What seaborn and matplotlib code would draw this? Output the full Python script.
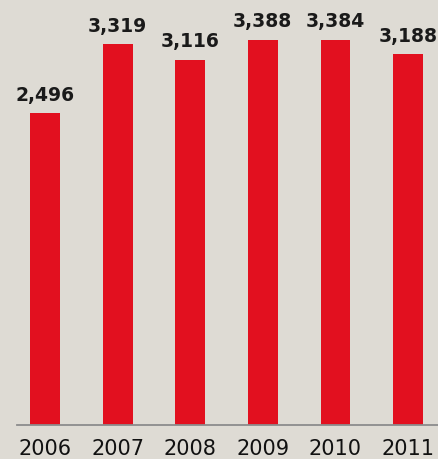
import matplotlib
matplotlib.use("Agg")
import matplotlib.pyplot as plt
import seaborn as sns
import pandas as pd

years = ["2006", "2007", "2008", "2009", "2010", "2011"]
values = [2496, 3319, 3116, 3388, 3384, 3188]
value_labels = ["2,496", "3,319", "3,116", "3,388", "3,384", "3,188"]

BG = "#dedbd4"
RED = "#e2101f"

sns.set_theme(style="white")
plt.rcParams["font.family"] = ["DejaVu Sans"]

fig = plt.figure(figsize=(4.39, 4.59), dpi=100)
fig.patch.set_facecolor(BG)
ax = fig.add_axes([17 / 439, 34 / 459, 1 - 17 / 439, 425 / 459])
ax.set_facecolor(BG)

df = pd.DataFrame({"year": years, "value": values})
sns.barplot(data=df, x="year", y="value", color=RED, saturation=1,
            width=0.41, ax=ax, edgecolor="none", linewidth=0)

ax.set_yscale("log")
ax.set_ylim(681, 3994)
ax.set_xlim(-0.386, 5.427)

ax.bar_label(ax.containers[0], labels=value_labels, padding=6,
             fontsize=13.5, fontweight="bold", color="#1a1a1a")

ax.yaxis.set_visible(False)
ax.set_xlabel("")
ax.set_ylabel("")
for s in ["top", "right", "left"]:
    ax.spines[s].set_visible(False)
ax.spines["bottom"].set_color("#8c8c8c")
ax.spines["bottom"].set_linewidth(1.3)
ax.tick_params(axis="x", length=0, pad=10, labelsize=15, labelcolor="#111111")

fig.savefig("out.png", dpi=100, facecolor=BG)
